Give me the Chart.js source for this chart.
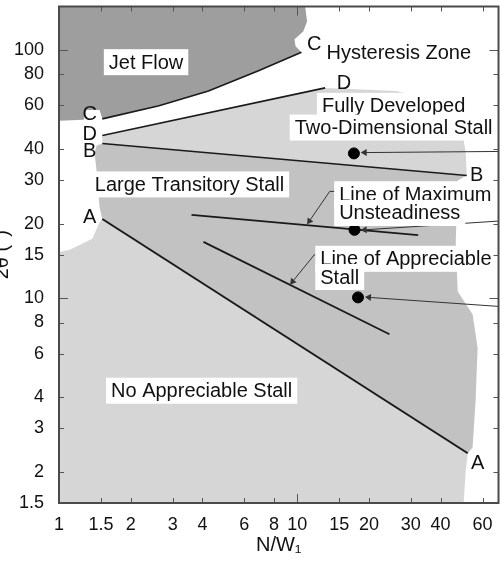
<!DOCTYPE html>
<html>
<head>
<meta charset="utf-8">
<script src="https://cdn.jsdelivr.net/npm/chart.js@4.4.1/dist/chart.umd.min.js"></script>
<style>
  html, body { margin: 0; padding: 0; background: #fff; }
  #wrap { position: relative; width: 504px; height: 561px; overflow: hidden; }
  #chart { position: absolute; left: -10px; top: 0; }
</style>
</head>
<body>
<div id="wrap"><canvas id="chart" width="515" height="561"></canvas></div>
<script>
// axis ticks
const xTicks = [1, 1.5, 2, 3, 4, 6, 8, 10, 15, 20, 30, 40, 60];
const yTicks = [1.5, 2, 3, 4, 6, 8, 10, 15, 20, 30, 40, 60, 80, 100];

// flow regime regions, [N/W1, 2theta]
const jetFlowRegion = [[1, 150], [10.8, 150], [11.0, 130.6], [10.6, 119], [9.74, 110.7], [9.84, 103.8],
  [10.42, 98.2], [6.84, 82.4], [4.24, 68.5], [2.63, 59.7], [1.52, 52.9], [1.48, 57.5], [1.30, 57.5],
  [1.27, 52.5], [1, 52.0], [1, 150]];
const twoDimStallRegion = [[1.52, 45.3], [13.1, 70.5], [26.1, 68.5], [42.1, 61.4], [48.6, 51.1],
  [51.0, 38.7], [51.5, 31.3], [1.52, 42.1], [1.52, 45.3]];
const transitoryRegion = [[1.44, 41.3], [1.52, 42.1], [51.5, 31.3], [47.2, 29.9], [46.3, 16.9],
  [47.2, 10.67], [54.5, 8.63], [57.2, 6.31], [56.1, 3.87], [54.5, 2.51], [52.0, 2.38], [1.52, 20.9],
  [1.48, 23.3], [1.44, 32.2], [1.41, 38.7], [1.44, 41.3]];
const noStallRegion = [[1.52, 20.9], [52.0, 2.38], [51.0, 2.03], [50.0, 1.5], [1, 1.5], [1, 15.4],
  [1.11, 15.7], [1.38, 17.4], [1.48, 20.3], [1.52, 20.9]];

// boundary lines
const lineC = [[1.52, 52.9], [2.63, 59.7], [4.24, 68.5], [6.84, 82.4], [10.42, 98.2]];
const lineD = [[1.52, 45.3], [13.1, 70.5]];
const lineB = [[1.52, 42.1], [51.5, 31.3]];
const lineA = [[1.52, 20.9], [52.0, 2.38]];
const maxUnsteadiness = [[3.60, 21.7], [32.2, 18.0]];
const appreciableStall = [[4.04, 16.9], [24.4, 7.18]];

// test points and arrows
const testPoints = [[17.3, 38.4], [17.4, 18.9], [18.0, 10.1]];
const pointArrows = [[[70, 39.1], [19.2, 38.7]], [[70, 20.5], [19.2, 18.9]], [[70, 9.29], [20.0, 10.1]]];
const pointArrowAngles = [270, 266, 274];
const leaders = [[[14.7, 27.0], [13.7, 27.0], [11.25, 20.5]], [[12.7, 15.0], [11.8, 15.0], [9.56, 11.7]]];
const leaderAngles = [215, 219];

const regionLabels = [
  {text: 'Jet Flow', x: 2.32, y: 89.5, box: true},
  {text: 'C', x: 1.345, y: 55.5},
  {text: 'D', x: 1.345, y: 46.1},
  {text: 'B', x: 1.345, y: 39.4},
  {text: 'C', x: 11.8, y: 106.7},
  {text: 'Hysteresis Zone', x: 26.7, y: 98.2},
  {text: 'D', x: 15.7, y: 73.8},
  {text: 'Fully Developed', x: 25.4, y: 59.7, box: true},
  {text: 'Two-Dimensional Stall', x: 25.4, y: 48.8, box: true},
  {text: 'B', x: 56.7, y: 31.6},
  {text: 'Large Transitory Stall', x: 3.53, y: 28.8, box: true},
  {text: 'A', x: 1.345, y: 21.3},
  {text: 'Line of Maximum', x: 15.0, y: 26.3, box: true, left: true},
  {text: 'Unsteadiness', x: 15.0, y: 22.1, box: true, left: true},
  {text: 'Line of Appreciable', x: 12.5, y: 14.45, box: true, left: true},
  {text: 'Stall', x: 12.5, y: 12.2, box: true, left: true},
  {text: 'No Appreciable Stall', x: 3.97, y: 4.25, box: true},
  {text: 'A', x: 57.2, y: 2.19}
];

const FONT = '"Liberation Sans", Arial, sans-serif';
Chart.defaults.font.family = FONT;
Chart.defaults.color = '#111';

const pts = arr => arr.map(([x, y]) => ({x, y}));
const region = (data, color) => ({data: pts(data), backgroundColor: color, borderWidth: 0,
  fill: 'shape', pointRadius: 0, tension: 0, order: 3});
const line = (data, w) => ({data: pts(data), borderColor: '#1a1a1a', borderWidth: w,
  fill: false, pointRadius: 0, order: 2});
const arrow = (data, rot) => ({data: pts(data), borderColor: '#333', borderWidth: 1, fill: false,
  pointStyle: 'triangle', pointRadius: data.map((p, i) => i === data.length - 1 ? 4 : 0),
  pointRotation: data.map(() => rot), pointBackgroundColor: '#333', pointBorderWidth: 0, order: 1});

const labelPlugin = {
  id: 'regionLabels',
  afterDatasetsDraw(chart) {
    const {ctx, scales: {x, y}} = chart;
    ctx.save();
    ctx.font = '20px ' + FONT;
    ctx.textBaseline = 'middle';
    regionLabels.forEach(l => {
      const px = x.getPixelForValue(l.x), py = y.getPixelForValue(l.y);
      const w = ctx.measureText(l.text).width;
      const left = l.left ? px : px - w / 2;
      if (l.box) {
        ctx.fillStyle = '#fff';
        ctx.fillRect(left - 5, py - 13, w + 10, 26);
      }
      ctx.fillStyle = '#111';
      ctx.fillText(l.text, left, py + 1);
    });
    ctx.restore();
  }
};

// inward ticks on all four sides + frame
const framePlugin = {
  id: 'frame',
  afterDraw(chart) {
    const {ctx, chartArea: a, scales: {x, y}} = chart;
    ctx.save();
    ctx.strokeStyle = '#555';
    ctx.lineWidth = 1;
    ctx.beginPath();
    xTicks.forEach(v => {
      const px = Math.round(x.getPixelForValue(v)) + 0.5, len = v === 10 ? 9 : 5;
      ctx.moveTo(px, a.bottom); ctx.lineTo(px, a.bottom - len);
      ctx.moveTo(px, a.top); ctx.lineTo(px, a.top + len);
    });
    yTicks.forEach(v => {
      const py = Math.round(y.getPixelForValue(v)) + 0.5, len = (v === 10 || v === 100) ? 9 : 5;
      ctx.moveTo(a.left, py); ctx.lineTo(a.left + len, py);
      ctx.moveTo(a.right, py); ctx.lineTo(a.right - len, py);
    });
    ctx.stroke();
    ctx.lineWidth = 2;
    ctx.strokeStyle = '#4a4a4a';
    ctx.strokeRect(a.left, a.top, a.right - a.left, a.bottom - a.top);
    ctx.restore();
  }
};

new Chart(document.getElementById('chart'), {
  type: 'line',
  data: {
    datasets: [
      region(jetFlowRegion, '#9e9e9e'),
      region(twoDimStallRegion, '#d6d6d6'),
      region(transitoryRegion, '#c2c2c2'),
      region(noStallRegion, '#d6d6d6'),
      line(lineC, 1.6),
      line(lineD, 1.6),
      line(lineB, 1.6),
      line(lineA, 2),
      line(maxUnsteadiness, 1.8),
      line(appreciableStall, 1.8),
      ...pointArrows.map((p, i) => arrow(p, pointArrowAngles[i])),
      ...leaders.map((p, i) => arrow(p, leaderAngles[i])),
      {data: pts(testPoints), showLine: false, pointRadius: 5.5, pointBackgroundColor: '#000',
        pointBorderColor: '#000', order: 0}
    ]
  },
  options: {
    responsive: false,
    animation: false,
    events: [],
    layout: {padding: {top: 3, left: 0, right: 0, bottom: 0}},
    plugins: {legend: {display: false}, tooltip: {enabled: false}},
    scales: {
      x: {
        type: 'logarithmic',
        min: 1,
        max: 70,
        grid: {display: false},
        border: {display: false},
        afterBuildTicks: s => { s.ticks = xTicks.map(v => ({value: v})); },
        afterFit: s => { s.height = 58; s.paddingLeft = 0; s.paddingRight = 0; },
        ticks: {autoSkip: false, maxRotation: 0, padding: 3, font: {size: 18},
          callback: v => String(v)},
        title: {display: true, text: 'N/W₁', font: {size: 20}, padding: {top: 0, bottom: 4}}
      },
      y: {
        type: 'logarithmic',
        min: 1.5,
        max: 150,
        grid: {display: false},
        border: {display: false},
        afterBuildTicks: s => { s.ticks = yTicks.map(v => ({value: v})); },
        afterFit: s => { s.width = 69; s.paddingTop = 0; s.paddingBottom = 0; },
        ticks: {autoSkip: false, padding: 7, font: {size: 18}, callback: v => String(v)},
        title: {display: true, text: '2θ (°)', font: {size: 20}, padding: {top: 0, bottom: 0}}
      }
    }
  },
  plugins: [labelPlugin, framePlugin]
});
</script>
</body>
</html>
